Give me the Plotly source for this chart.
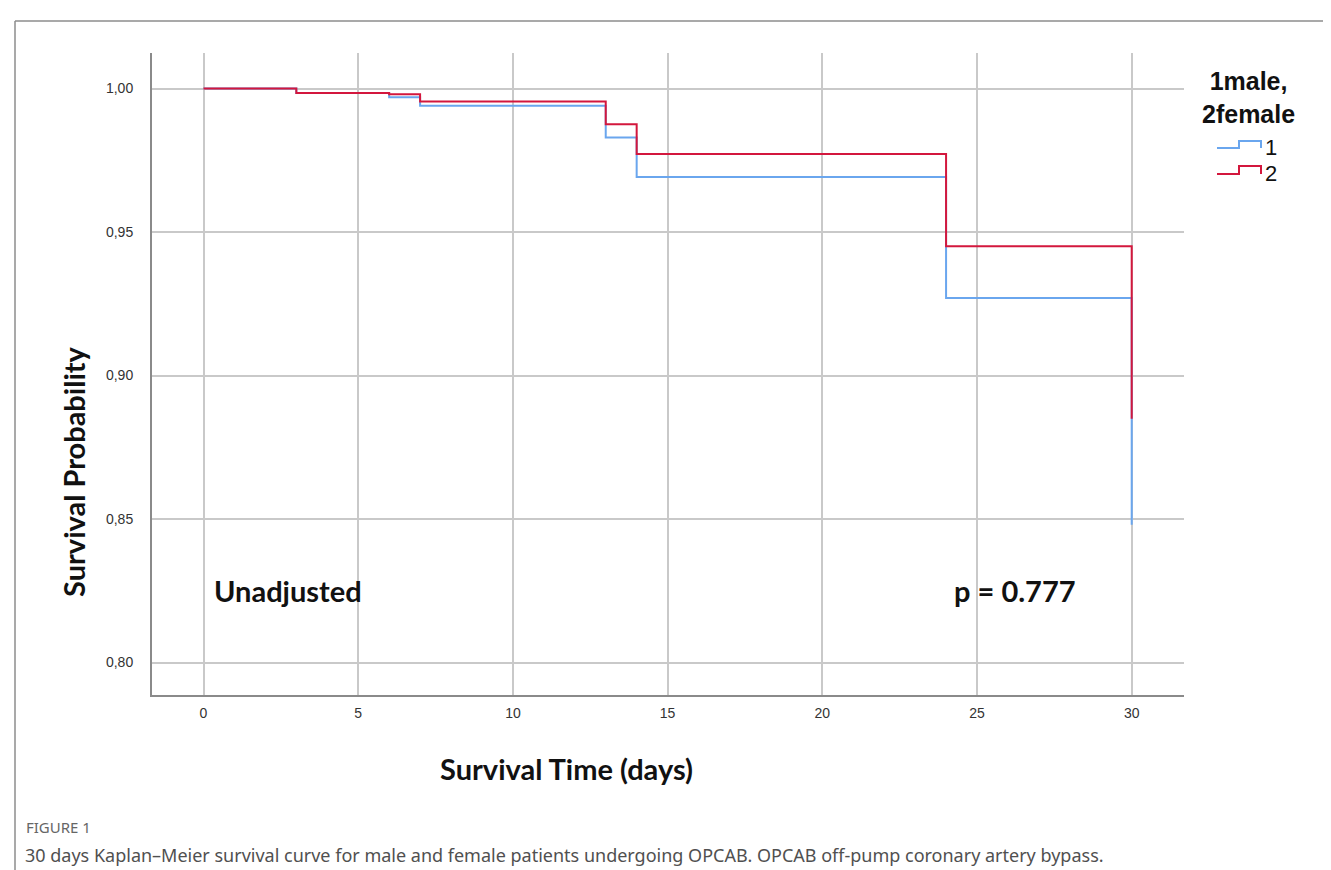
import plotly.graph_objects as go

# ---- data ----
days = [0, 3, 6, 7, 13, 14, 24, 30]
surv_male = [1.000, 0.9985, 0.997, 0.994, 0.983, 0.9692, 0.927, 0.848]      # group 1
surv_female = [1.000, 0.9985, 0.998, 0.9955, 0.9876, 0.9772, 0.9451, 0.885]  # group 2
x_ticks = [0, 5, 10, 15, 20, 25, 30]
y_ticks = [0.80, 0.85, 0.90, 0.95, 1.00]
group_labels = ["1", "2"]

BLUE = "#6aa6ee"
RED = "#d3173d"

W, H = 1331, 870
L, R, T, B = 144, 1176, 45, 687   # plot area in pixels

def px(xpix):
    return (xpix - L) / (R - L)

def py(ypix):
    return (B - ypix) / (B - T)

def note(text, x, y, size, family, color="#111111", xanchor="center", **kw):
    fig.add_annotation(text=text, xref="paper", yref="paper", x=px(x), y=py(y),
                       xanchor=xanchor, yanchor="middle", showarrow=False,
                       font=dict(family=family, size=size, color=color), **kw)

fig = go.Figure()
fig.add_trace(go.Scatter(x=days, y=surv_male, mode="lines", line_shape="hv",
                         line=dict(color=BLUE, width=2), name=group_labels[0],
                         showlegend=False))
fig.add_trace(go.Scatter(x=days, y=surv_female, mode="lines", line_shape="hv",
                         line=dict(color=RED, width=2), name=group_labels[1],
                         showlegend=False))

fig.update_layout(
    width=W, height=H,
    margin=dict(l=L, r=W - R, t=T, b=H - B, pad=0),
    paper_bgcolor="white", plot_bgcolor="white",
    separators=",.",
    font=dict(family="Liberation Sans, Arial", color="#333333"),
)
fig.update_xaxes(range=[-1.665, 31.69], tickvals=x_ticks, showgrid=True,
                 gridcolor="#c9c9c9", gridwidth=2, zeroline=False,
                 showline=True, linecolor="#8a8a8a", linewidth=2,
                 ticks="", tickfont=dict(size=14, color="#333333"), ticklabelstandoff=4)
fig.update_yaxes(range=[0.7887, 1.0124], tickvals=y_ticks, tickformat=".2f",
                 showgrid=True, gridcolor="#c9c9c9", gridwidth=2, zeroline=False,
                 showline=True, linecolor="#8a8a8a", linewidth=2,
                 ticks="", tickfont=dict(size=14, color="#333333"), ticklabelstandoff=14)

# axis titles
note("<b>Survival Time (days)</b>", 558, 760, 29, "Lato")
note("<b>Survival Probability</b>", 65, 464, 29, "Lato", textangle=-90)

# in-plot labels
note("<b>Unadjusted</b>", 204, 582, 29, "Lato", xanchor="left")
note("<b>p = 0.777</b>", 944, 582, 29, "Lato", xanchor="left")

# legend (custom, step-shaped icons)
note("<b>1male,<br>2female</b>", 1240, 90, 25, "Liberation Sans")
for lab, col, ylo_p, yhi_p, ytxt in [(group_labels[0], BLUE, 140, 133, 139),
                                     (group_labels[1], RED, 166, 158, 165)]:
    x0, x1, x2 = px(1209), px(1231), px(1253)
    path = (f"M {x0},{py(ylo_p)} L {x1},{py(ylo_p)} L {x1},{py(yhi_p)} "
            f"L {x2},{py(yhi_p)} L {x2},{py(ylo_p)}")
    fig.add_shape(type="path", path=path, xref="paper", yref="paper",
                  line=dict(color=col, width=2))
    note(lab, 1255, ytxt, 22, "Liberation Sans", xanchor="left")

# page frame (top and left rules)
fig.add_shape(type="line", xref="paper", yref="paper", x0=px(7), x1=px(1331),
              y0=py(13), y1=py(13), line=dict(color="#8c8c8c", width=1.5))
fig.add_shape(type="line", xref="paper", yref="paper", x0=px(7), x1=px(7),
              y0=py(13), y1=py(870), line=dict(color="#8c8c8c", width=1.5))

# caption
note("FIGURE 1", 16, 819, 15, "Noto Sans", color="#666666", xanchor="left")
note("30 days Kaplan–Meier survival curve for male and female patients undergoing OPCAB. "
     "OPCAB off-pump coronary artery bypass.", 15, 847, 18, "Noto Sans",
     color="#505050", xanchor="left")

fig.write_html("out.html")
